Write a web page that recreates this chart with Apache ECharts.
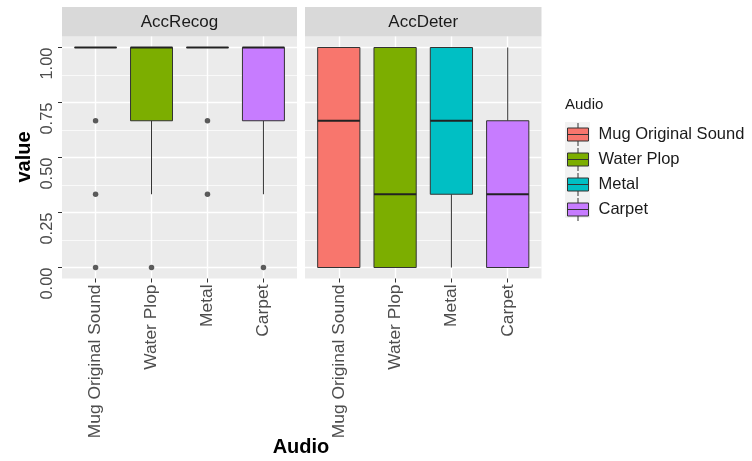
<!DOCTYPE html>
<html>
<head>
<meta charset="utf-8">
<script src="https://cdn.jsdelivr.net/npm/echarts@6/dist/echarts.min.js"></script>
<style>
  html, body { margin: 0; padding: 0; background: #fff; }
  #chart { width: 752px; height: 461px; }
</style>
</head>
<body>
<div id="chart"></div>
<script>
// Categories and facets
const audioTypes = ['Mug Original Sound', 'Water Plop', 'Metal', 'Carpet'];
const facetNames = ['AccRecog', 'AccDeter'];

// Box summaries per audio type: [lower whisker, Q1, median, Q3, upper whisker]
const accRecogBoxes = [
  [1, 1, 1, 1, 1],
  [0.333, 0.667, 1, 1, 1],
  [1, 1, 1, 1, 1],
  [0.333, 0.667, 1, 1, 1]
];
const accDeterBoxes = [
  [0, 0, 0.667, 1, 1],
  [0, 0, 0.333, 1, 1],
  [0, 0.333, 0.667, 1, 1],
  [0, 0, 0.333, 0.667, 1]
];

// Outlying points per audio type
const accRecogOutliers = [
  [0.667, 0.333, 0],
  [0],
  [0.667, 0.333],
  [0]
];
const accDeterOutliers = [[], [], [], []];

// Value axis ticks
const yTicks = [0, 0.25, 0.5, 0.75, 1];
const yTickLabels = ['0.00', '0.25', '0.50', '0.75', '1.00'];
const yMinorTicks = [0.125, 0.375, 0.625, 0.875];

const audioColors = ['#F8766D', '#7CAE00', '#00BFC4', '#C77CFF'];

const FONT = 'Liberation Sans, Arial, sans-serif';
const xPositions = audioTypes.map((_, i) => i + 1);

// Panel geometry
const panelTop = 36.5, panelHeight = 242;
const panels = [
  { left: 62, width: 235 },
  { left: 305, width: 236.5 }
];

function boxRows(boxes) {
  return boxes.map((b, i) => [i + 1].concat(b));
}
function outlierRows(outs) {
  const rows = [];
  outs.forEach((vals, i) => vals.forEach(v => rows.push([i + 1, v])));
  return rows;
}

// Draws a ggplot-style box: whiskers without caps, filled box, thick median
function renderBox(params, api) {
  const x = api.value(0);
  const lo = api.value(1), q1 = api.value(2), med = api.value(3), q3 = api.value(4), hi = api.value(5);
  const cx = api.coord([x, 0])[0];
  const halfW = api.size([0.75, 0])[0] / 2;
  const y = v => api.coord([x, v])[1];
  const color = audioColors[params.dataIndex];
  const stroke = '#333333';
  const children = [];
  if (hi > q3) children.push({ type: 'line', shape: { x1: cx, y1: y(hi), x2: cx, y2: y(q3) }, style: { stroke, lineWidth: 1 } });
  if (lo < q1) children.push({ type: 'line', shape: { x1: cx, y1: y(q1), x2: cx, y2: y(lo) }, style: { stroke, lineWidth: 1 } });
  children.push({
    type: 'rect',
    shape: { x: cx - halfW, y: y(q3), width: halfW * 2, height: y(q1) - y(q3) },
    style: { fill: color, stroke, lineWidth: 1 }
  });
  children.push({ type: 'line', shape: { x1: cx - halfW, y1: y(med), x2: cx + halfW, y2: y(med) }, style: { stroke: '#222', lineWidth: 2.2 } });
  return { type: 'group', children };
}

const grids = panels.map(p => ({
  left: p.left, width: p.width, top: panelTop, height: panelHeight,
  show: true, backgroundColor: '#EBEBEB', borderWidth: 0,
  containLabel: false, outerBoundsMode: 'none'
}));

const xAxes = panels.map((p, gi) => ({
  type: 'value', gridIndex: gi, min: 0.4, max: 4.6,
  axisLine: { show: false, onZero: false },
  axisTick: { show: true, customValues: xPositions, length: 4, lineStyle: { color: '#333', width: 1 } },
  axisLabel: {
    show: true, customValues: xPositions, rotate: 90, margin: 6,
    color: '#4D4D4D', fontSize: 17.4, fontFamily: FONT,
    formatter: v => audioTypes[Math.round(v) - 1]
  },
  splitLine: { show: true, lineStyle: { color: '#FFFFFF', width: 1.4 } }
}));

const yAxes = [];
panels.forEach((p, gi) => {
  yAxes.push({
    type: 'value', gridIndex: gi, min: -0.05, max: 1.05,
    axisLine: { show: false, onZero: false },
    axisTick: { show: gi === 0, customValues: yTicks, length: 4, lineStyle: { color: '#333', width: 1 } },
    axisLabel: {
      show: gi === 0, customValues: yTicks, rotate: 90, margin: 6,
      align: 'right', verticalAlign: 'bottom',
      color: '#4D4D4D', fontSize: 16.5, fontFamily: FONT,
      formatter: v => yTickLabels[yTicks.indexOf(Math.round(v * 100) / 100)]
    },
    splitLine: { show: true, lineStyle: { color: '#FFFFFF', width: 1.4 } }
  });
});
// Minor grid lines
panels.forEach((p, gi) => {
  yAxes.push({
    type: 'value', gridIndex: gi, min: -0.05, max: 1.05,
    axisLine: { show: false, onZero: false },
    axisTick: { show: false, customValues: yMinorTicks },
    axisLabel: { show: false, customValues: yMinorTicks },
    splitLine: { show: true, lineStyle: { color: '#FFFFFF', width: 0.7 } }
  });
});

const series = [];
[accRecogBoxes, accDeterBoxes].forEach((boxes, gi) => {
  series.push({
    type: 'custom', name: facetNames[gi] + ' boxes',
    xAxisIndex: gi, yAxisIndex: gi,
    encode: { x: 0, y: [1, 2, 3, 4, 5] },
    data: boxRows(boxes), renderItem: renderBox, z: 3, silent: true
  });
});
[accRecogOutliers, accDeterOutliers].forEach((outs, gi) => {
  series.push({
    type: 'scatter', name: facetNames[gi] + ' outliers',
    xAxisIndex: gi, yAxisIndex: gi,
    data: outlierRows(outs), symbolSize: 5.5,
    itemStyle: { color: '#333333' }, z: 4, silent: true
  });
});
// Legend entries
audioTypes.forEach((name, i) => {
  series.push({
    type: 'custom', name, xAxisIndex: 0, yAxisIndex: 0,
    data: [], renderItem: () => null,
    itemStyle: { color: audioColors[i] }
  });
});

const keyIcon = 'path://M10.5,0 L10.5,5 M0,5 L21,5 L21,18 L0,18 Z M0,11.5 L21,11.5 M10.5,18 L10.5,23';

const graphic = [];
panels.forEach((p, gi) => {
  graphic.push({
    type: 'rect', z: 0,
    shape: { x: p.left, y: 7, width: p.width, height: panelTop - 7 },
    style: { fill: '#D9D9D9' }
  });
  graphic.push({
    type: 'text', z: 1,
    x: p.left + p.width / 2, y: 22,
    style: { text: facetNames[gi], fill: '#1A1A1A', font: '17px ' + FONT, align: 'center', verticalAlign: 'middle' }
  });
});
graphic.push({
  type: 'text', x: 24, y: 157, rotation: Math.PI / 2,
  style: { text: 'value', fill: '#000', font: 'bold 20px ' + FONT, align: 'center', verticalAlign: 'middle' }
});
graphic.push({
  type: 'text', x: 301, y: 447,
  style: { text: 'Audio', fill: '#000', font: 'bold 20px ' + FONT, align: 'center', verticalAlign: 'middle' }
});
graphic.push({
  type: 'text', x: 565, y: 105,
  style: { text: 'Audio', fill: '#1A1A1A', font: '15px ' + FONT, align: 'left', verticalAlign: 'middle' }
});
graphic.push({
  type: 'rect', z: 0,
  shape: { x: 565, y: 122, width: 25, height: 96 },
  style: { fill: '#F2F2F2' }
});

const option = {
  animation: false,
  backgroundColor: '#FFFFFF',
  grid: grids,
  xAxis: xAxes,
  yAxis: yAxes,
  series,
  graphic,
  legend: {
    data: audioTypes,
    orient: 'vertical', left: 567, top: 122.5, padding: 0,
    itemWidth: 21, itemHeight: 23, itemGap: 1,
    icon: keyIcon,
    itemStyle: { borderColor: '#333333', borderWidth: 1 },
    textStyle: { color: '#1A1A1A', fontSize: 16.5, fontFamily: FONT, padding: [0, 0, 0, 5] },
    selectedMode: false
  }
};

const chart = echarts.init(document.getElementById('chart'), null, { renderer: 'canvas' });
chart.setOption(option);
</script>
</body>
</html>
